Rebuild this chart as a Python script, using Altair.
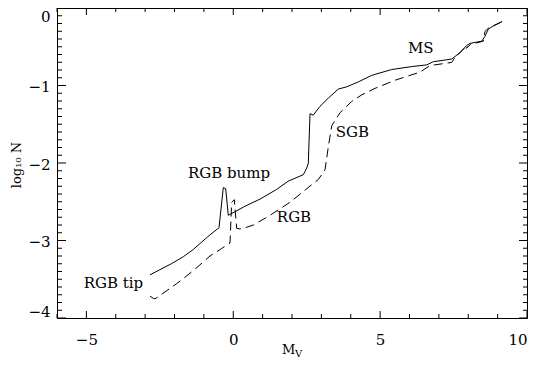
import altair as alt
import pandas as pd

# ---- data ----
solid_x = [-2.834, -2.494, -2.095, -1.700, -1.360, -1.074, -0.791, -0.485, -0.339, -0.257,
           -0.169, 0.342, 0.570, 0.911, 1.479, 1.874, 2.385, 2.443, 2.500, 2.555, 2.613,
           2.725, 2.953, 3.236, 3.576, 3.862, 4.257, 4.713, 5.394, 6.075, 6.586, 6.810,
           7.437, 7.719, 7.947, 8.060, 8.458, 8.570, 8.683, 8.853, 9.081, 9.149]
solid_y = [-3.443, -3.376, -3.297, -3.209, -3.116, -3.020, -2.927, -2.835, -2.318, -2.331,
           -2.675, -2.570, -2.527, -2.466, -2.340, -2.234, -2.151, -2.108, -2.066, -2.003, -1.364,
           -1.382, -1.269, -1.163, -1.046, -1.017, -0.954, -0.869, -0.794, -0.756, -0.734, -0.693,
           -0.659, -0.576, -0.483, -0.457, -0.428, -0.365, -0.273, -0.231, -0.189, -0.176]

dash_x = [-2.834, -2.722, -2.664, -1.925, -1.360, -0.791, -0.393, -0.111, -0.053, 0.036,
          0.117, 0.230, 0.342, 0.683, 1.251, 1.932, 2.613, 2.895, 3.123, 3.236, 3.351,
          3.634, 4.032, 4.373, 4.826, 5.506, 6.187, 6.357, 6.698, 7.437, 7.549, 7.832,
          8.002, 7.930, 8.080, 8.512, 8.570, 8.683, 9.081, 9.149]
dash_y = [-3.717, -3.746, -3.754, -3.557, -3.389, -3.200, -3.103, -3.033, -2.507, -2.473,
          -2.843, -2.851, -2.843, -2.801, -2.675, -2.507, -2.297, -2.214, -2.088, -1.793, -1.521,
          -1.352, -1.206, -1.121, -1.037, -0.932, -0.848, -0.828, -0.743, -0.702, -0.639, -0.533,
          -0.491, -0.520, -0.470, -0.428, -0.302, -0.261, -0.189, -0.176]

label_text = ["RGB tip", "RGB bump", "RGB", "SGB", "MS"]
label_x = [-4.08, -0.145, 2.068, 4.053, 6.385]
label_y = [-3.607, -2.192, -2.755, -1.659, -0.576]

x_major = [-5, 0, 5, 10]
x_minor = [v for v in range(-6, 11) if v % 5 != 0]
y_major = [-4, -3, -2, -1, 0]
y_minor = [round(-4 + 0.1 * i, 1) for i in range(41) if i % 10 != 0]

W, H = 470, 310
FONT = "DejaVu Serif"

df_s = pd.DataFrame({"x": solid_x, "y": solid_y, "i": range(len(solid_x))})
df_d = pd.DataFrame({"x": dash_x, "y": dash_y, "i": range(len(dash_x))})
df_l = pd.DataFrame({"x": label_x, "y": label_y, "t": label_text})

xs = alt.Scale(domain=[-6, 10], nice=False, zero=False)
ys = alt.Scale(domain=[-4, 0], nice=False, zero=False)

xaxis = alt.Axis(values=x_major, format="d", ticks=False, tickSize=0, domain=False, grid=False,
                 labelPadding=14, labelFlush=True, title=None, labelFont=FONT, labelFontSize=15,
                 labelColor="black")
yaxis = alt.Axis(values=y_major, format="d", ticks=False, tickSize=0, domain=False, grid=False,
                 labelPadding=7, labelOffset=1, labelFlush=True, title=None,
                 labelFont=FONT, labelFontSize=15, labelColor="black")


def X(field):
    return alt.X(field, scale=xs, axis=xaxis, title=None)


def Y(field):
    return alt.Y(field, scale=ys, axis=yaxis, title=None)


solid = alt.Chart(df_s).mark_line(color="black", strokeWidth=1).encode(
    x=X("x:Q"), y=Y("y:Q"), order="i:Q")
dashed = alt.Chart(df_d).mark_line(color="black", strokeWidth=1, strokeDash=[9, 5]).encode(
    x=X("x:Q"), y=Y("y:Q"), order="i:Q")
labels = alt.Chart(df_l).mark_text(font=FONT, fontSize=15, align="center", baseline="alphabetic",
                                   color="black").encode(
    x=X("x:Q"), y=Y("y:Q"), text="t:N")


def xticks(vals, length):
    d = pd.DataFrame({"v": vals})
    bot = alt.Chart(d).mark_rule(color="black", strokeWidth=1).encode(
        x=X("v:Q"), y=alt.value(H), y2=alt.value(H - length))
    top = alt.Chart(d).mark_rule(color="black", strokeWidth=1).encode(
        x=X("v:Q"), y=alt.value(0), y2=alt.value(length))
    return [bot, top]


def yticks(vals, length_l, length_r):
    d = pd.DataFrame({"v": vals})
    left = alt.Chart(d).mark_rule(color="black", strokeWidth=1).encode(
        y=Y("v:Q"), x=alt.value(0), x2=alt.value(length_l))
    right = alt.Chart(d).mark_rule(color="black", strokeWidth=1).encode(
        y=Y("v:Q"), x=alt.value(W), x2=alt.value(W - length_r))
    return [left, right]


tick_layers = xticks(x_major, 7) + xticks(x_minor, 4) + yticks(y_major, 9, 8) + yticks(y_minor, 5, 4)

one = pd.DataFrame({"a": [0]})
title_m = alt.Chart(one).mark_text(font=FONT, fontSize=13, align="left", baseline="alphabetic",
                                   color="black").encode(
    x=alt.value(225), y=alt.value(346), text=alt.value("M"))
title_v = alt.Chart(one).mark_text(font=FONT, fontSize=10, align="left", baseline="alphabetic",
                                   color="black").encode(
    x=alt.value(238), y=alt.value(349), text=alt.value("V"))
title_y = alt.Chart(one).mark_text(font=FONT, fontSize=13, align="center", baseline="alphabetic",
                                   angle=270, color="black").encode(
    x=alt.value(-36), y=alt.value(157), text=alt.value("log₁₀ N"))

chart = alt.layer(solid, dashed, labels, *tick_layers, title_m, title_v, title_y).properties(
    width=W, height=H,
    autosize=alt.AutoSizeParams(type="none"),
    padding={"left": 49, "top": 0, "right": 2, "bottom": 42},
).configure_view(stroke="black", strokeWidth=1)

chart.save("out.html", embed_options={"renderer": "svg", "actions": False})
